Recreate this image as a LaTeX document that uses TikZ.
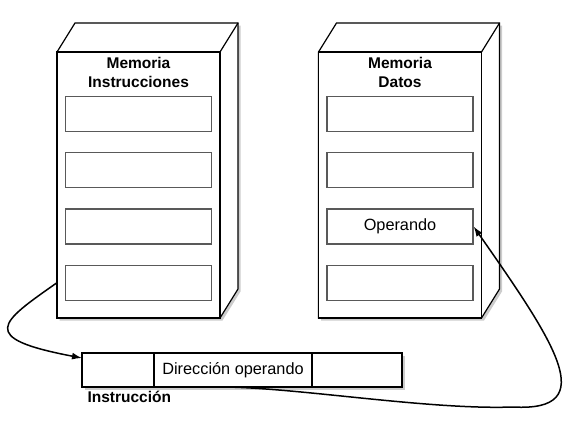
\documentclass[tikz,border=0pt]{standalone}
\usepackage{fontspec}
\setmainfont{Liberation Sans}
\usetikzlibrary{arrows.meta,backgrounds,shadows,calc,positioning}

\begin{document}
\begin{tikzpicture}[x=1pt,y=-1pt,align=center,font=\fontsize{16.3}{18}\selectfont]
\tikzstyle{memoria}=[draw=black,fill=white,line width=1.2pt,minimum width=163pt,minimum height=266pt,inner sep=0pt,outer sep=0pt]
\tikzstyle{celda}=[draw=black!65,fill=white,line width=1.2pt,minimum width=146pt,minimum height=35pt,inner sep=0pt]
\tikzstyle{campo}=[draw=black,fill=white,line width=1.2pt,minimum height=34pt,inner sep=0pt,outer sep=0pt]
\tikzstyle{titulo}=[font=\fontsize{15.5}{18.5}\selectfont\bfseries]
\tikzstyle{flecha}=[-{Latex[length=10pt,width=7pt]},line width=1.5pt]
\tikzstyle{sombra}=[drop shadow={shadow xshift=2.5pt,shadow yshift=-2.5pt,opacity=.4}]

\useasboundingbox (0,0) rectangle (583,437);

\node[memoria] (memI) at (138.5,185) {};
\node[memoria] (memD) at (400,185) {};

% caras de atras
\begin{scope}[on background layer]
\foreach \m in {memI,memD}
  \draw[sombra,fill=white,line width=1.2pt] (\m.south west) -- (\m.north west) -- ++(18,-29) -- ++(163,0) -- ++(0,266) -- (\m.south east) -- cycle;
\end{scope}
\foreach \m in {memI,memD}
  \draw[line width=1.2pt] (\m.north east) -- ++(18,-29);

\node[titulo,below=2pt of memI.north] (tI) {Memoria\\Instrucciones};
\node[titulo,below=2pt of memD.north] (tD) {Memoria\\Datos};

\node[celda,below=44pt of memI.north] (sI1) {};
\node[celda,below=20pt of sI1] (sI2) {};
\node[celda,below=20pt of sI2] (sI3) {};
\node[celda,below=20pt of sI3] (sI4) {};

\node[celda,below=44pt of memD.north] (sD1) {};
\node[celda,below=20pt of sD1] (sD2) {};
\node[celda,below=20pt of sD2] (sD3) {Operando};
\node[celda,below=20pt of sD3] (sD4) {};

% instruccion
\node[campo,minimum width=72pt] (c1) at (118,370) {};
\node[campo,minimum width=158pt,right=0pt of c1] (c2) {Dirección operando};
\node[campo,minimum width=90pt,right=0pt of c2] (c3) {};
\begin{scope}[on background layer]
\path[sombra,fill=white] (c1.north west) rectangle (c3.south east);
\end{scope}
\node[titulo,below right=1pt and 2pt of c1.south west] (lI) {Instrucción};

\coordinate (vuelta) at (513,407);
\draw[flecha] (memI.west |- sI4.center) .. controls +(-57,40) and +(-105,-20) .. ([yshift=-5pt]c1.north west);
\draw[flecha] ([xshift=-8pt]c2.south) .. controls +(75,1) and +(-83,3) .. (vuelta) .. controls +(89,5) and +(81,116) .. (sD3.east);
\end{tikzpicture}
\end{document}
